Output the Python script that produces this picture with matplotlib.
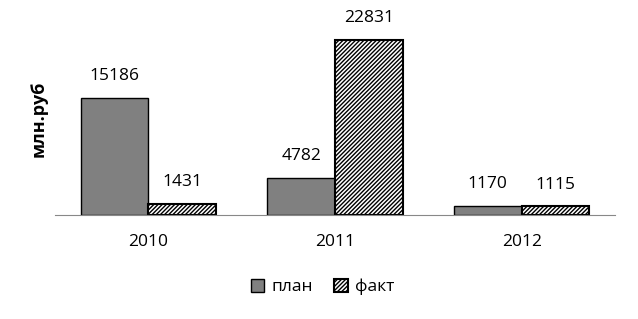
import numpy as np
import matplotlib.pyplot as plt
import matplotlib as mpl

years = ['2010', '2011', '2012']
plan = [15186, 4782, 1170]
fact = [1431, 22831, 1115]

plt.rcParams['font.family'] = ['Open Sans', 'DejaVu Sans']
mpl.rcParams['hatch.linewidth'] = 1.0

fig = plt.figure(figsize=(6.38, 3.19), dpi=100)
ax = fig.add_axes([55/638, 1 - 215/319, (615-55)/638, (215-23)/319])

x = np.arange(len(years))
w = 0.363
b1 = ax.bar(x - w/2, plan, w, color='#808080', edgecolor='black', linewidth=1.0, label='план')
b2 = ax.bar(x + w/2, fact, w, color='white', edgecolor='black', linewidth=1.5,
            hatch='////////', label='факт')

for bars, vals in ((b1, plan), (b2, fact)):
    for r, v in zip(bars, vals):
        ax.annotate(str(v), (r.get_x() + r.get_width()/2, r.get_height()),
                    xytext=(0, 10), textcoords='offset points',
                    ha='center', va='bottom', fontsize=12.5)

ax.set_xlim(-0.5, 2.5)
ax.set_ylim(0, 25000)
ax.set_xticks(x)
ax.set_xticklabels(years, fontsize=12.5)
ax.tick_params(axis='x', length=0, pad=14)
ax.set_yticks([])
for s in ['top', 'right', 'left']:
    ax.spines[s].set_visible(False)
ax.spines['bottom'].set_color('#888888')
ax.set_ylabel('млн.руб', fontsize=13, fontweight='bold', labelpad=5)

fig.legend(handles=[b1, b2], loc='center', bbox_to_anchor=(0.505, 1 - 287/319),
           ncol=2, frameon=False, fontsize=12.5, handlelength=0.8, handleheight=0.8,
           handletextpad=0.4, columnspacing=1.2)

fig.savefig('out.png', dpi=100)
